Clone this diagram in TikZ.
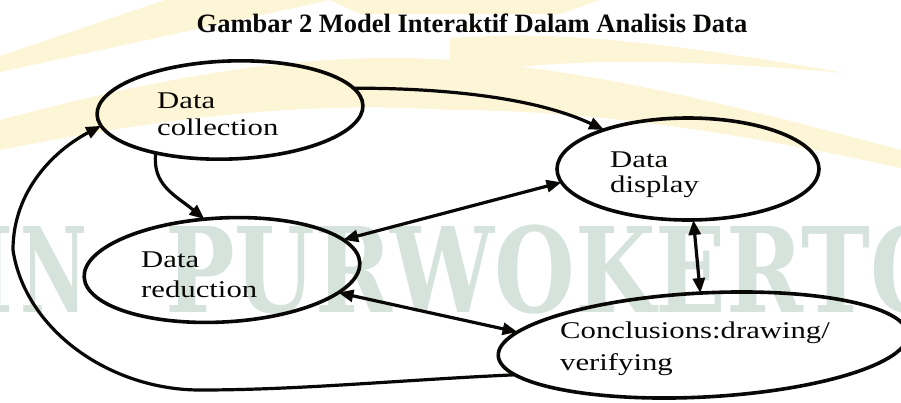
\documentclass[tikz,border=0pt]{standalone}
\usepackage{fontspec}
\setmainfont{Liberation Serif}
\newfontfamily\wmfont{DejaVu Serif}
\usetikzlibrary{arrows.meta,shapes.geometric}
\definecolor{ray}{RGB}{252,245,214}
\definecolor{wm}{RGB}{214,227,220}
\definecolor{ink}{RGB}{10,8,6}
\newcommand\stretchtxt[2]{\scalebox{1.28}[1]{\fontsize{24}{#1}\selectfont\begin{tabular}[t]{@{}l@{}}#2\end{tabular}}}
\tikzset{
  ell/.style={draw=ink, ellipse, line width=3.6pt, inner sep=0pt, outer sep=0pt},
  lbl/.style={anchor=base west, inner sep=0pt, text=ink},
  arr/.style={draw=ink, line width=3.2pt, -{Triangle[length=15pt,width=12pt]}},
  dbl/.style={draw=ink, line width=3.2pt, {Triangle[length=15pt,width=12pt]}-{Triangle[length=15pt,width=12pt]}},
  wmtext/.style={inner sep=0pt, text=wm, font=\wmfont\bfseries\fontsize{118}{120}\selectfont}
}
\begin{document}
\begin{tikzpicture}[x=1pt,y=-1pt]
\useasboundingbox (0,0) rectangle (901,402);
\fill[white] (0,0) rectangle (901,402);
\begin{scope}
\clip (0,0) rectangle (901,402);
% faint logo rays
\fill[ray] (0,56) -- (165,0) -- (330,0) -- (0,72) -- cycle;
\fill[ray] (330,0) -- (600,0) -- (560,14) -- (360,14) -- cycle;
\fill[ray] (450,38) .. controls (520,34) and (600,30) .. (845,73) .. controls (700,60) and (560,55) .. (450,77) -- cycle;
\fill[ray] (0,120) .. controls (150,80) and (300,50) .. (450,60) .. controls (600,70) and (750,110) .. (901,150)
   -- (901,168) .. controls (750,135) and (600,110) .. (450,110) .. controls (300,100) and (150,120) .. (0,150) -- cycle;
% watermark text
\node[wmtext, anchor=base east] (wmI) at (14,312) {\scalebox{0.785}[1]{I}};
\node[wmtext, anchor=base west] (wmN) at (20,312) {\scalebox{0.62}[1]{N}};
\node[wmtext, anchor=base west] (wmP) at (165,312) {\scalebox{0.785}[1]{PURWOKERTO}};
\end{scope}
% title
\node[anchor=base, inner sep=0pt, text=ink, font=\bfseries\fontsize{26.5}{30}\selectfont] (title) at (472,32) {Gambar 2 Model Interaktif Dalam Analisis Data};
% ellipses
\node[ell, minimum width=266pt, minimum height=98pt, rotate=2] (col) at (230,110) {};
\node[ell, minimum width=262pt, minimum height=102pt] (dis) at (688,169) {};
\node[ell, minimum width=276pt, minimum height=104pt, rotate=3] (red) at (222,270) {};
\node[ell, minimum width=410pt, minimum height=104pt, rotate=3] (con) at (703,345) {};
% labels
\node[lbl] (colT) at (157,108) {\stretchtxt{27pt}{Data\\collection}};
\node[lbl] (disT) at (610,167) {\stretchtxt{25pt}{Data\\display}};
\node[lbl] (redT) at (141,267) {\stretchtxt{30pt}{Data\\reduction}};
\node[lbl] (conT) at (560,338) {\stretchtxt{32pt}{Conclusions:drawing/\\verifying}};
% connectors
\draw[arr] (col.8) .. controls (430,88) and (530,95) .. (dis.155);
\draw[arr] (col.208) .. controls (152,185) and (175,195) .. (red.106);
\draw[dbl] (dis.186) -- (red.11);
\draw[dbl] (dis.276) -- (con.90);
\draw[dbl] (red.346) -- (con.173);
\draw[arr] (con.186) .. controls (400,380) and (300,390) .. (200,390)
   .. controls (110,390) and (25,330) .. (13,250)
   .. controls (13,190) and (55,150) .. (col.185);
\end{tikzpicture}
\end{document}
